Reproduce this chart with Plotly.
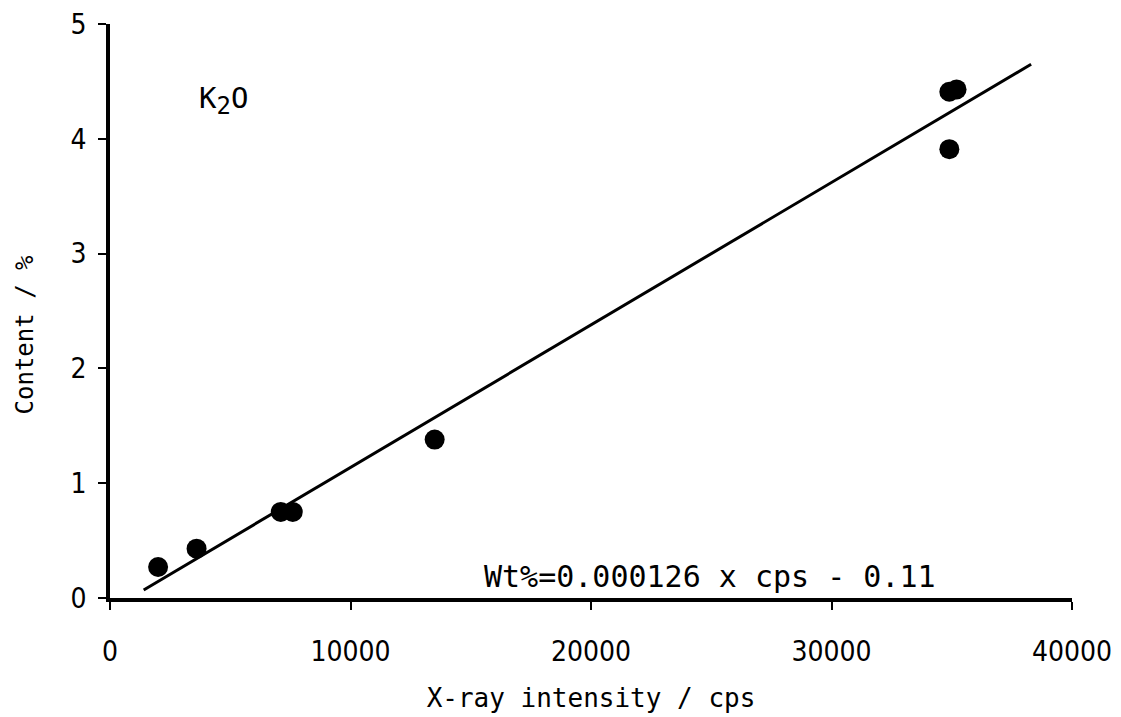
import plotly.graph_objects as go

# Data
cps = [2000, 3600, 7100, 7600, 13500, 34900, 35200, 34900]
content = [0.27, 0.43, 0.75, 0.75, 1.38, 4.41, 4.43, 3.91]

fit_x = [1400, 38300]
fit_y = [0.07, 4.65]

x_ticks = [0, 10000, 20000, 30000, 40000]
y_ticks = [0, 1, 2, 3, 4, 5]

mono = "DejaVu Sans Mono, Liberation Mono, monospace"
narrow = "DejaVu Sans Condensed, Liberation Sans Narrow, sans-serif"

fig = go.Figure()
fig.add_trace(go.Scatter(x=fit_x, y=fit_y, mode="lines",
                         line=dict(color="black", width=3), showlegend=False,
                         cliponaxis=False))
fig.add_trace(go.Scatter(x=cps, y=content, mode="markers",
                         marker=dict(color="black", size=20), showlegend=False,
                         cliponaxis=False))

fig.add_annotation(x=24950, y=0.19, text="Wt%=0.000126 x cps - 0.11",
                   showarrow=False, font=dict(family=mono, size=30, color="black"))
fig.add_annotation(x=4700, y=4.33,
                   text="K<sub><span style='font-size:24px'>2</span></sub>O",
                   showarrow=False, font=dict(family=mono, size=29, color="black"))
fig.add_annotation(xref="paper", yref="y", x=-0.088, y=2.29, xanchor="center",
                   yanchor="middle",
                   text="Content / %", textangle=-90, showarrow=False,
                   font=dict(family=mono, size=24, color="black"))

axis_common = dict(showline=True, linecolor="black", linewidth=3.5,
                   ticks="outside", tickcolor="black", tickwidth=2, ticklen=8,
                   showgrid=False, zeroline=False,
                   tickfont=dict(family=narrow, size=28, color="black"))

fig.update_xaxes(range=[0, 40000], tickvals=x_ticks,
                 ticktext=[str(v) for v in x_ticks], ticklabelstandoff=18,
                 title=dict(text="X-ray intensity / cps", standoff=22,
                            font=dict(family=mono, size=26, color="black")),
                 **axis_common)
fig.update_yaxes(range=[0, 5], tickvals=y_ticks,
                 ticktext=[str(v) for v in y_ticks], ticklabelstandoff=6,
                 **axis_common)

fig.update_layout(width=1121, height=717,
                  margin=dict(l=110, r=49, t=24, b=119, autoexpand=False),
                  paper_bgcolor="white", plot_bgcolor="white")

fig.write_html("out.html")
